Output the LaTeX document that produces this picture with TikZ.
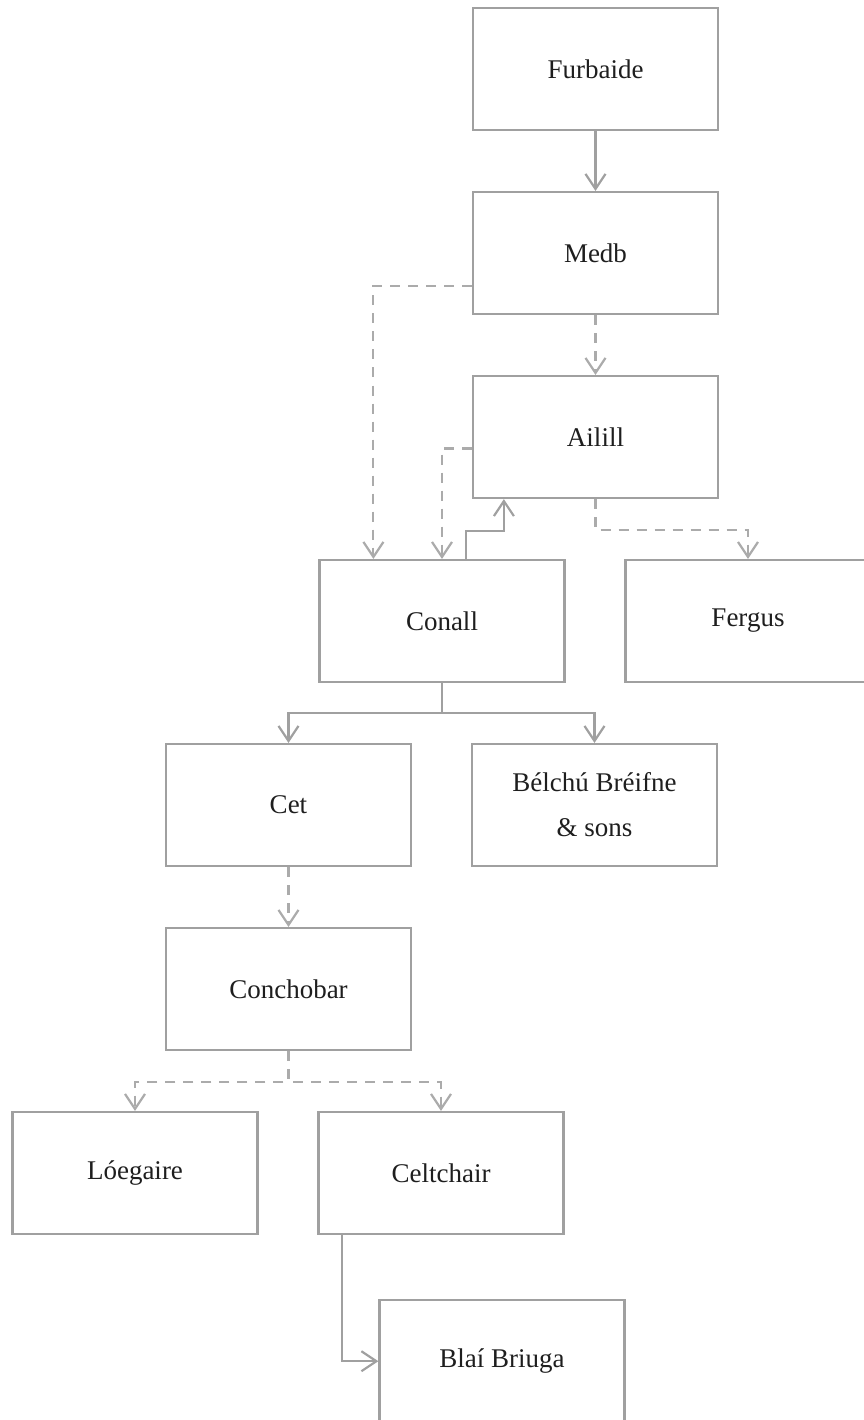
\documentclass[tikz,border=0pt]{standalone}
\usepackage{fontspec}
\setmainfont{Liberation Serif}
\usepackage{tikz}
\usetikzlibrary{arrows.meta,positioning,calc}
\definecolor{linegrey}{HTML}{A0A0A0}
\definecolor{dashgrey}{HTML}{ABABAB}
\definecolor{textblack}{HTML}{1E1E1E}
\tikzstyle{box}=[draw=linegrey,line width=2.2pt,rectangle,minimum width=245pt,minimum height=122pt,inner sep=0pt,align=center,text=textblack,font=\fontsize{27}{45}\selectfont]
\tikzstyle{link}=[draw=linegrey,line width=2.2pt,->]
\tikzstyle{maybe}=[draw=dashgrey,line width=2.2pt,->,dash pattern=on 10pt off 8pt]

\begin{document}
\begin{tikzpicture}[>={Straight Barb[length=15pt,width=20pt]},node distance=59.8pt and 58.8pt]
\path[use as bounding box] (-595.5pt,69pt) rectangle (267.5pt,-1351pt);

\node [box] (furbaide) at (0,0) {Furbaide};
\node [box, below=of furbaide] (medb) {Medb};
\node [box, below=of medb] (ailill) {Ailill};
\node [box, below=of ailill, xshift=-153.5pt] (conall) {Conall};
\node [box, right=of conall] (fergus) {Fergus};
\node [box, below=of conall, xshift=-153.5pt] (cet) {Cet};
\node [box, right=of cet] (belchu) {Bélchú Bréifne\\\& sons};
\node [box, below=of cet] (conchobar) {Conchobar};
\node [box, below=of conchobar, xshift=-153.5pt] (loegaire) {Lóegaire};
\node [box, right=of loegaire] (celtchair) {Celtchair};
\node [box, below=64pt of celtchair, xshift=61pt] (blai) {Blaí Briuga};

\draw [link] (furbaide) -- (medb);
\draw [maybe] (medb) -- (ailill);
\draw [maybe] ([yshift=-33pt]medb.west) -| ([xshift=55pt]conall.north west);
\draw [maybe] ([yshift=-11.5pt]ailill.west) -| (conall.north);
\draw [link] ([xshift=24pt]conall.north) -- ++(0,28pt) -| ([xshift=32pt]ailill.south west);
\draw [maybe] (ailill.south) -- ++(0,-31pt) -| (fergus.north);
\draw [link] (conall.south) -- ++(0,-30pt) -| (cet.north);
\draw [link] (conall.south) -- ++(0,-30pt) -| (belchu.north);
\draw [maybe] (cet) -- (conchobar);
\draw [maybe] (conchobar.south) -- ++(0,-31pt) -| (loegaire.north);
\draw [maybe] (conchobar.south) -- ++(0,-31pt) -| (celtchair.north);
\draw [link] ([xshift=25pt]celtchair.south west) |- (blai.west);
\end{tikzpicture}
\end{document}
